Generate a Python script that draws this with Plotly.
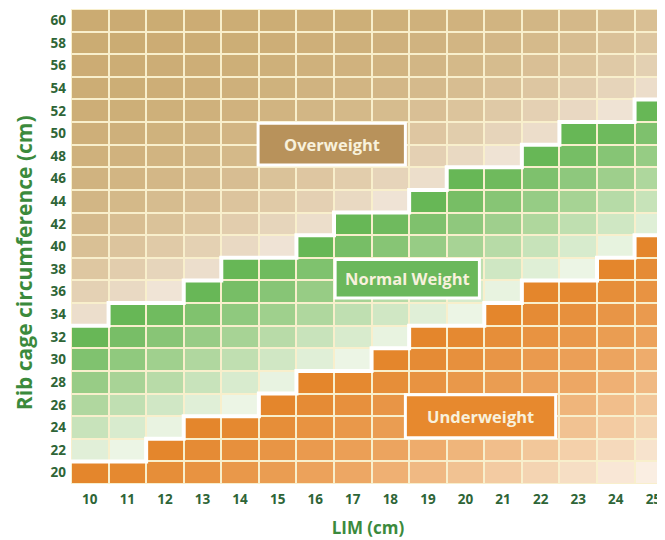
import numpy as np
import plotly.graph_objects as go

# ---- data ----
lim = list(range(10, 26))                      # LIM (cm) columns
rib = list(range(20, 62, 2))                   # rib cage circumference rows
normal_max = [32, 34, 34, 36, 38, 38, 40, 42, 42, 44, 46, 46, 48, 50, 50, 52]
under_max = [20, 20, 22, 24, 24, 26, 28, 28, 30, 32, 32, 34, 36, 36, 38, 40]
labels = ["Overweight", "Normal Weight", "Underweight"]

# ---- styling ----
FONT = "Open Sans"
over_scale = [[0, "#F1E6DA"], [0.5, "#DEC7A2"], [1, "#CAAA70"]]
norm_scale = [[0, "#ECF5E5"], [0.5, "#A9D497"], [1, "#67B756"]]
under_scale = [[0, "#FAEEE2"], [0.2, "#F4D3AF"], [0.55, "#EDA662"], [1, "#E4862C"]]
box_fill = ["#B8925B", "#6BB85C", "#E7892E"]
box_pos = [  # x0, x1, y0, y1 in axis units
    (14.48, 18.4, 47.2, 50.9),
    (16.53, 20.37, 35.45, 38.85),
    (18.4, 22.4, 23.1, 26.9),
]

X = np.array(lim, dtype=float)
top_fit = np.polyfit(X, np.array(normal_max) + 1, 1)
und_fit = np.polyfit(X, np.array(under_max) + 1, 1)

nr, nc = len(rib), len(lim)
z_over = [[None] * nc for _ in range(nr)]
z_norm = [[None] * nc for _ in range(nr)]
z_under = [[None] * nc for _ in range(nr)]
for j, x in enumerate(lim):
    ltop = np.polyval(top_fit, x)
    lund = np.polyval(und_fit, x)
    for i, r in enumerate(rib):
        if r <= under_max[j]:
            gap = max(lund - r, 0)
            z_under[i][j] = float(np.clip(1 - (gap - 1) / 19, 0, 1))
        elif r <= normal_max[j]:
            gap = max(ltop - r, 0)
            z_norm[i][j] = float(np.clip(1 - (gap - 1) / 11, 0, 1))
        else:
            gap = max(r - ltop, 0)
            z_over[i][j] = float(1 - np.exp(-gap / 7))

fig = go.Figure()
for z, cs in [(z_over, over_scale), (z_norm, norm_scale), (z_under, under_scale)]:
    fig.add_trace(go.Heatmap(
        x=lim, y=rib, z=z, colorscale=cs, zmin=0, zmax=1,
        showscale=False, xgap=2, ygap=2, hoverinfo="skip"))

# white boundaries between zones
for mx in (normal_max, under_max):
    bx = [lim[0] - 0.5] + lim + [lim[-1] + 0.5]
    by = [mx[0] + 1] + [v + 1 for v in mx] + [mx[-1] + 1]
    fig.add_trace(go.Scatter(x=bx, y=by, mode="lines",
                             line=dict(color="white", width=4, shape="hvh"),
                             hoverinfo="skip", showlegend=False))

for txt, fill, (x0, x1, y0, y1) in zip(labels, box_fill, box_pos):
    fig.add_shape(type="rect", x0=x0, x1=x1, y0=y0, y1=y1,
                  fillcolor=fill, line=dict(color="white", width=3), layer="above")
    fig.add_annotation(x=(x0 + x1) / 2, y=(y0 + y1) / 2, text=f"<b>{txt}</b>",
                       showarrow=False,
                       font=dict(family=FONT, size=16.5, color="#F8F1DC"))

tick_font = dict(family=FONT, size=13.5, color="#2E6537", weight="bold")
x_title_font = dict(family=FONT, size=17, color="#3B8A3C", weight="bold")
y_title_font = dict(family=FONT, size=21, color="#3B8A3C", weight="bold")

# y axis title (placed slightly below the plot centre, as in the original)
fig.add_annotation(xref="paper", yref="paper", x=-0.079, y=0.465,
                   xanchor="center", yanchor="middle", textangle=-90,
                   text="<b>Rib cage circumference (cm)</b>", showarrow=False,
                   borderpad=0, font=y_title_font)

# the page body adds an 8px offset, so the figure is sized to fit the window
fig.update_layout(
    width=657, height=532,
    margin=dict(l=63, r=0, t=1, b=56),
    paper_bgcolor="white",
    plot_bgcolor="#F8EFCC",
    showlegend=False,
    xaxis=dict(range=[9.5, 25.31], tickmode="array", tickvals=lim,
               ticktext=[str(v) for v in lim], showgrid=False, zeroline=False,
               ticks="", tickfont=tick_font, ticklabelstandoff=5,
               automargin=False,
               title=dict(text="LIM (cm)", font=x_title_font, standoff=15)),
    yaxis=dict(range=[19, 61], tickmode="array", tickvals=rib,
               ticktext=[str(v) for v in rib], showgrid=False, zeroline=False,
               ticks="", tickfont=tick_font, ticklabelstandoff=4,
               automargin=False),
)

fig.write_html("out.html")
